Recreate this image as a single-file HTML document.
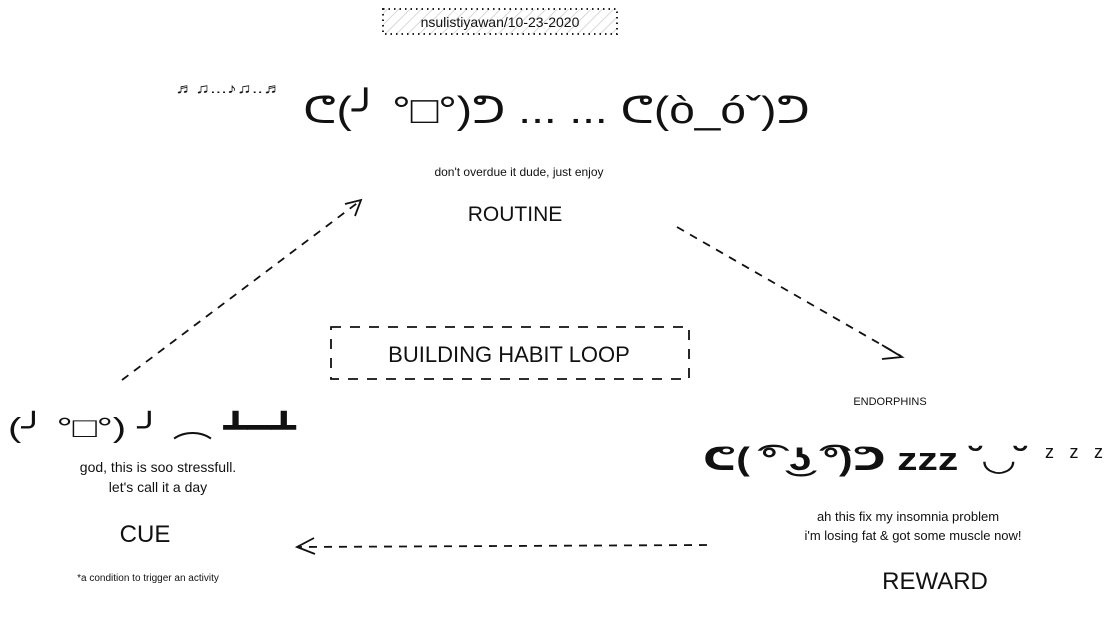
<!DOCTYPE html>
<html><head><meta charset="utf-8"><style>
html,body{margin:0;padding:0;background:#fff;width:1118px;height:638px;overflow:hidden}
svg text{font-family:"Liberation Sans","DejaVu Sans","Noto Sans CJK JP",sans-serif;fill:#111}
</style></head><body>
<svg width="1118" height="638" viewBox="0 0 1118 638" xmlns="http://www.w3.org/2000/svg">
<defs>
<pattern id="h" width="8" height="8" patternUnits="userSpaceOnUse" patternTransform="rotate(45)">
<line x1="0" y1="0" x2="0" y2="8" stroke="#ccc" stroke-width="1.5"/></pattern>
</defs>
<rect x="383" y="9" width="234" height="25" fill="url(#h)" stroke="#222" stroke-width="2" stroke-dasharray="1.5 4"/>
<text x="500" y="27" font-size="14" text-anchor="middle">nsulistiyawan/10-23-2020</text>

<text x="175" y="93" font-size="14" textLength="108" lengthAdjust="spacingAndGlyphs">♬♫...♪♫..♬</text>
<text x="303" y="123" font-size="38" textLength="507" lengthAdjust="spacingAndGlyphs">ᕦ(╯ °□°)ᕤ ... ... ᕦ(ò_óˇ)ᕤ</text>

<text x="519" y="176" font-size="12" text-anchor="middle">don't overdue it dude, just enjoy</text>
<text x="515" y="221" font-size="21" text-anchor="middle">ROUTINE</text>

<g stroke="#111" stroke-width="1.8" fill="none">
<line x1="122" y1="380" x2="360" y2="201" stroke-dasharray="8 7"/>
<path d="M345 204 L361 200 L355 216"/>
<line x1="677" y1="227" x2="901" y2="356" stroke-dasharray="8 7"/>
<path d="M882 345 L902 357 L882 359"/>
<line x1="707" y1="545" x2="298" y2="547" stroke-dasharray="8 7"/>
<path d="M314 538 L297 547 L315 554"/>
<rect x="331" y="327" width="358" height="52" stroke-dasharray="10 9"/>
</g>
<text x="509" y="362" font-size="22" text-anchor="middle">BUILDING HABIT LOOP</text>

<text x="8" y="437" font-size="28" textLength="288" lengthAdjust="spacingAndGlyphs">(╯ °□°) ╯ ︵ ┻━┻</text>
<text x="158" y="472" font-size="14" text-anchor="middle">god, this is soo stressfull.</text>
<text x="158" y="492" font-size="14" text-anchor="middle">let's call it a day</text>
<text x="145" y="542" font-size="24" text-anchor="middle">CUE</text>
<text x="148" y="581" font-size="10" text-anchor="middle">*a condition to trigger an activity</text>

<text x="890" y="405" font-size="11" text-anchor="middle">ENDORPHINS</text>
<text x="703" y="470" font-size="32" font-weight="bold" textLength="325" lengthAdjust="spacingAndGlyphs">ᕦ( ͡° ͜ʖ ͡°)ᕤ zzz ˘◡˘</text>
<text x="1045" y="458" font-size="18" textLength="58" lengthAdjust="spacing">z z z</text>
<text x="908" y="521" font-size="13" text-anchor="middle">ah this fix my insomnia problem</text>
<text x="913" y="540" font-size="13" text-anchor="middle">i'm losing fat &amp; got some muscle now!</text>
<text x="935" y="589" font-size="24" text-anchor="middle">REWARD</text>
</svg>
</body></html>
